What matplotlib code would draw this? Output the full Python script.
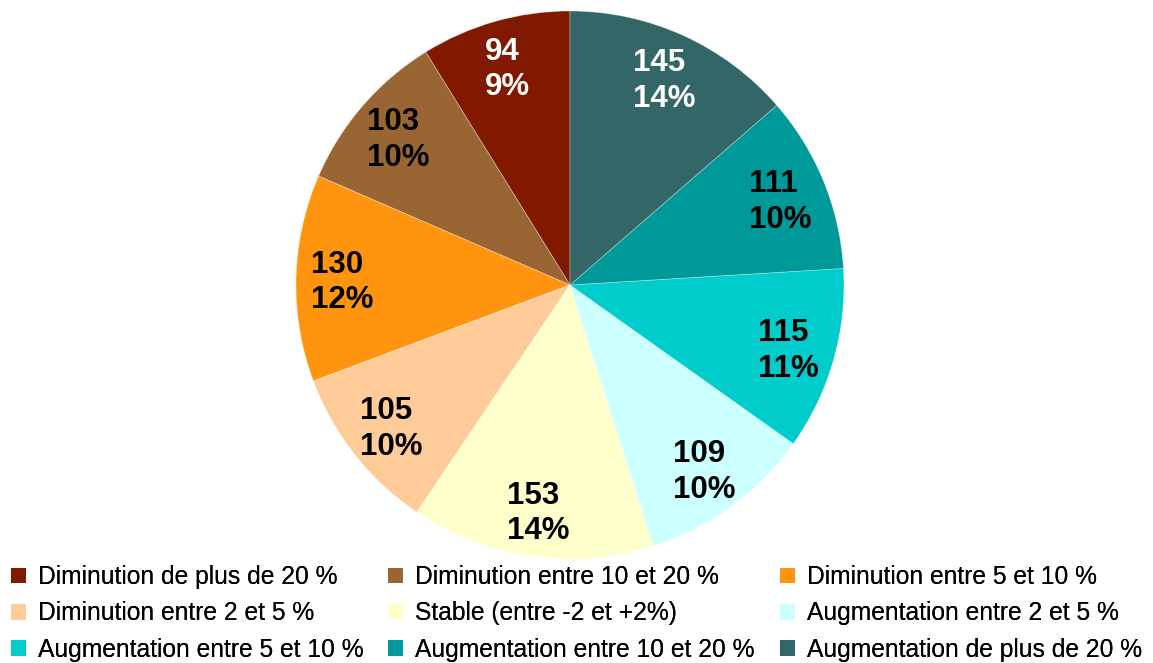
import matplotlib.pyplot as plt
from matplotlib.patches import Patch

plt.rcParams['font.family'] = ['Liberation Sans', 'DejaVu Sans']

categories = ["Diminution de plus de 20 %", "Diminution entre 10 et 20 %",
              "Diminution entre 5 et 10 %", "Diminution entre 2 et 5 %",
              "Stable (entre -2 et +2%)", "Augmentation entre 2 et 5 %",
              "Augmentation entre 5 et 10 %", "Augmentation entre 10 et 20 %",
              "Augmentation de plus de 20 %"]
values = [94, 103, 130, 105, 153, 109, 115, 111, 145]
colors = ["#801900", "#996633", "#ff950e", "#ffcc99", "#ffffcc",
          "#ccffff", "#00cccc", "#009999", "#336666"]
label_colors = ["white", "black", "black", "black", "black",
                "black", "black", "black", "white"]

total = sum(values)

fig = plt.figure(figsize=(11.53, 6.63), dpi=100)
ax = fig.add_axes([0.2567, 0.1569, 0.4753, 0.8265])

wedges, texts, autotexts = ax.pie(
    values, colors=colors, startangle=90, counterclock=True,
    autopct=lambda p: "%d\n%d%%" % (round(p * total / 100), round(p)),
    pctdistance=0.83, radius=1.0,
    wedgeprops=dict(linewidth=0.6, edgecolor=(1, 1, 1, 0.35)),
    textprops=dict(fontsize=22.5, fontweight='bold', linespacing=1.25))
for t, c in zip(autotexts, label_colors):
    t.set_color(c)
    t.set_multialignment('left')
    x, y = t.get_position()
    t.set_position((x, y - 0.012))
ax.set_xlim(-1, 1)
ax.set_ylim(-1, 1)
ax.set_aspect('equal')
ax.axis('off')

# legend: three columns, read row by row
handles = [Patch(facecolor=c, edgecolor='none') for c in colors]
col_x = [-0.0056, 0.3214, 0.6614]
for k, x in enumerate(col_x):
    idx = [k, k + 3, k + 6]
    leg = fig.legend([handles[i] for i in idx], [categories[i] for i in idx],
                     loc='lower left', bbox_to_anchor=(x, -0.024),
                     frameon=False, fontsize=17.7, handlelength=0.6,
                     handleheight=0.6, handletextpad=0.5, labelspacing=0.5,
                     borderaxespad=0.3)
    fig.add_artist(leg)

fig.savefig("out.png", dpi=100)
